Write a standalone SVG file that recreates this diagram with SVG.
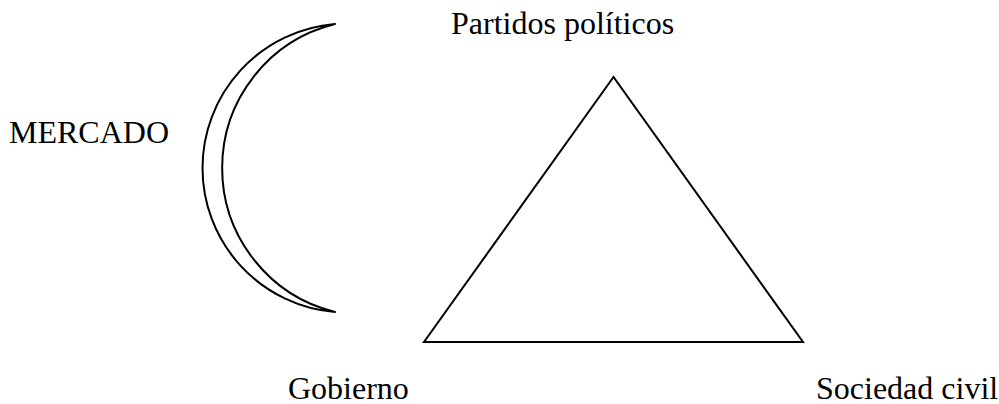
<svg xmlns="http://www.w3.org/2000/svg" width="999" height="404" viewBox="0 0 999 404">
<style>
text{font-family:'Liberation Serif','DejaVu Serif',serif;font-size:32px;fill:#000}
.ln{fill:none;stroke:#000;stroke-width:2}
</style>
<rect width="999" height="404" fill="#fff"/>
<g id="mercado">
<path class="ln" d="M335,24 A144.5,144.5 0 0 0 335,312 A148.3,148.3 0 0 1 335,24 Z" stroke-linejoin="round"/>
<text x="9" y="143" font-family="Liberation Serif, serif">MERCADO</text>
</g>
<g id="triangulo">
<polygon class="ln" points="613.5,77 424,342 803,342"/>
</g>
<g id="partidos"><text x="451" y="34" font-family="Liberation Serif, serif">Partidos políticos</text></g>
<g id="gobierno"><text x="288" y="399" font-family="Liberation Serif, serif">Gobierno</text></g>
<g id="sociedad"><text x="816" y="399" font-family="Liberation Serif, serif">Sociedad civil</text></g>
<g id="connectors"></g>
</svg>
